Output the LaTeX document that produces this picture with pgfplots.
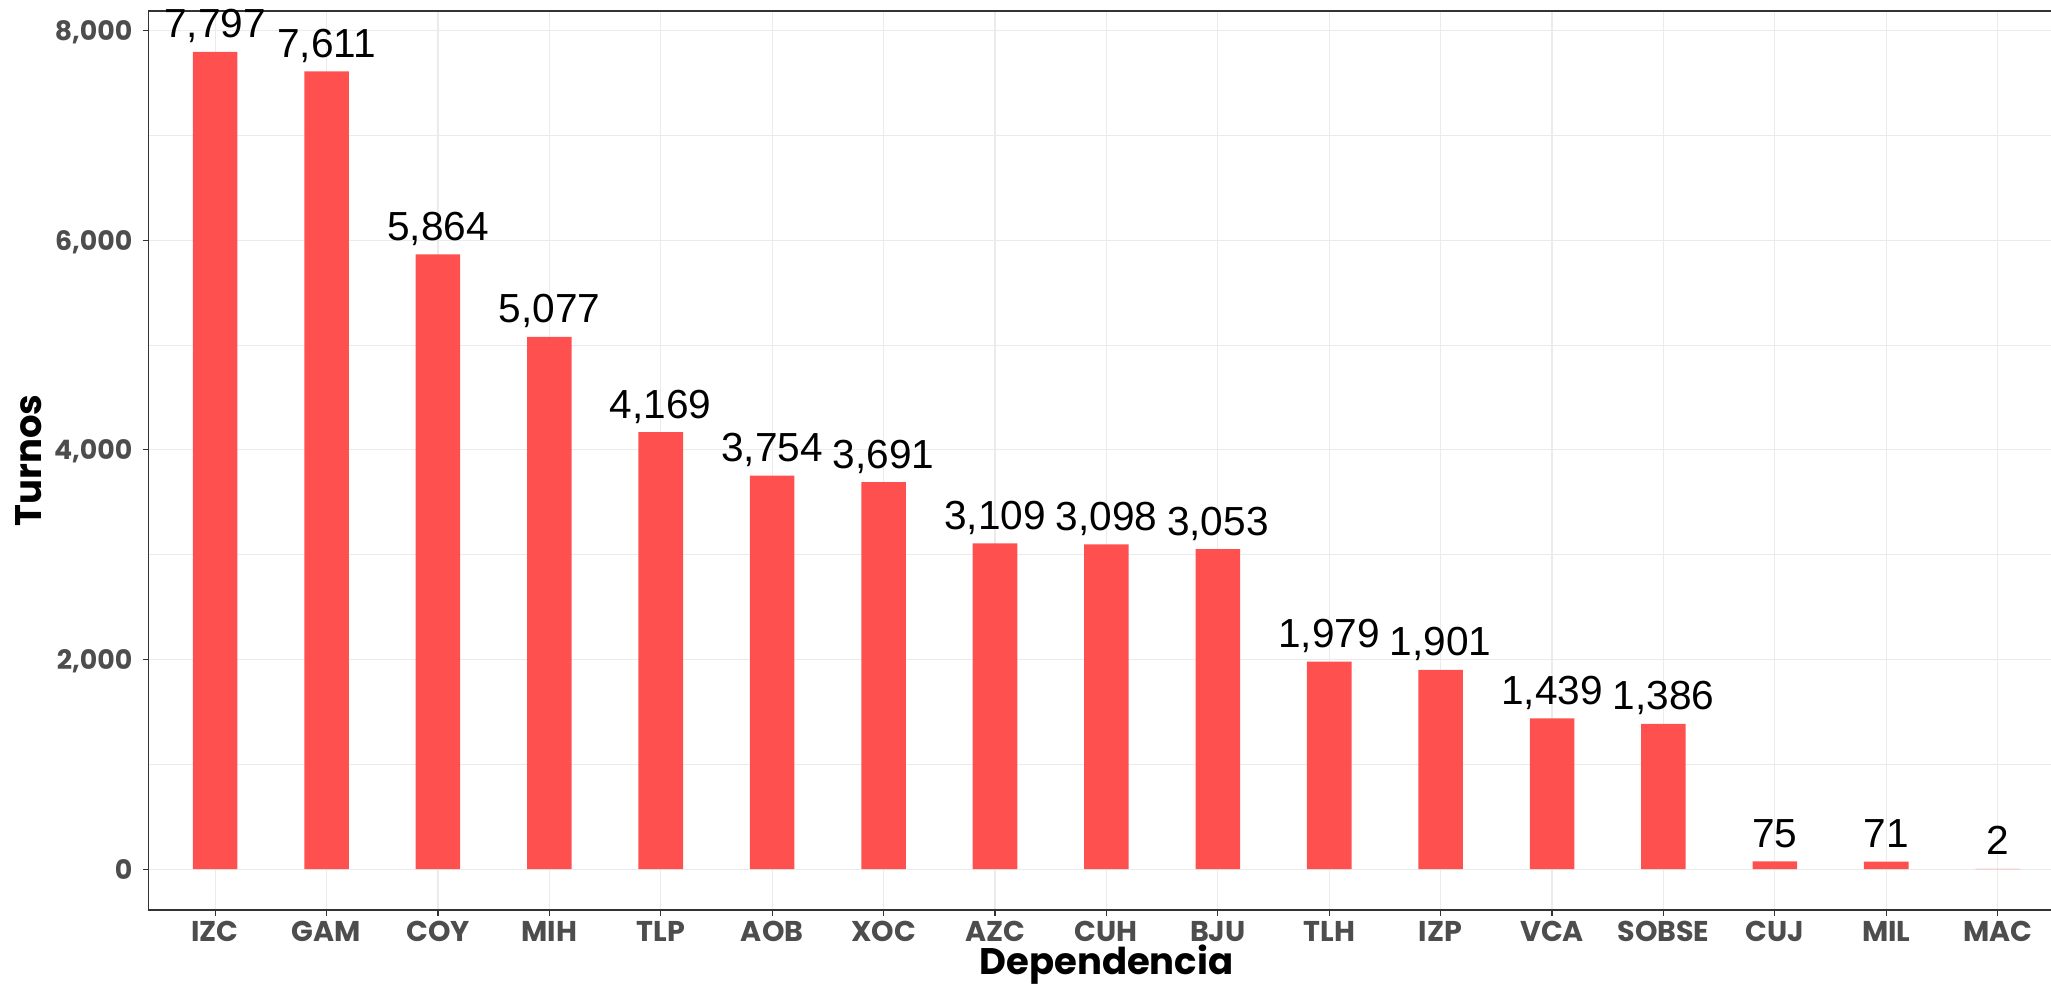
\documentclass[border=0pt]{standalone}
\usepackage{pgfplots}
\pgfplotsset{compat=1.18}
\usepackage{fontspec}
\setmainfont{Liberation Sans}
\newfontfamily\poppins{Poppins}
\definecolor{barred}{RGB}{255,80,80}
\definecolor{gridc}{RGB}{235,235,235}
\definecolor{tickc}{RGB}{77,77,77}
\definecolor{framec}{RGB}{51,51,51}
\begin{document}
\begin{tikzpicture}
\begin{axis}[
  scale only axis, width=958.1pt, height=449.5pt,
  xmin=-0.6, xmax=16.6, ymin=-389.85, ymax=8186.85,
  axis line style={framec, line width=0.55pt},
  xtick={0,...,16},
  xticklabels={IZC,GAM,COY,MIH,TLP,AOB,XOC,AZC,CUH,BJU,TLH,IZP,VCA,SOBSE,CUJ,MIL,MAC},
  ytick={0,2000,4000,6000,8000},
  minor ytick={1000,3000,5000,7000},
  grid=both,
  major grid style={gridc, line width=0.55pt},
  minor grid style={gridc, line width=0.3pt},
  tick align=outside, tick pos=left,
  major tick length=2.8pt, minor tick length=0pt,
  tick style={framec, line width=0.55pt},
  ticklabel style={font=\poppins\bfseries\fontsize{14.3}{16}\selectfont, text=tickc, inner sep=0pt},
  yticklabel style={font=\poppins\bfseries\fontsize{13.4}{16}\selectfont, anchor=east, text depth=0pt, xshift=-5pt},
  xticklabel style={anchor=north, text depth=0pt, yshift=-2.65pt},
  scaled y ticks=false,
  /pgf/number format/assume math mode=true,
  /pgf/number format/fixed,
  /pgf/number format/precision=0,
  /pgf/number format/1000 sep={,},
  xlabel={Dependencia}, ylabel={Turnos},
  label style={font=\poppins\bfseries\fontsize{18.5}{22}\selectfont, text=black, inner sep=0pt},
  xlabel style={at={(axis description cs:0.5,-0.0723)}, anchor=base},
  ylabel style={at={(axis description cs:-0.05563,0.5)}, anchor=base},
  ybar, bar width=0.4, bar shift=0pt,
  nodes near coords,
  every node near coord/.append style={font=\fontsize{20.3}{23}\selectfont, text=black, anchor=base, yshift=7pt, inner sep=0pt},
]
\addplot[fill=barred, draw=none] coordinates {
(0,7797) (1,7611) (2,5864) (3,5077) (4,4169) (5,3754) (6,3691) (7,3109)
(8,3098) (9,3053) (10,1979) (11,1901) (12,1439) (13,1386) (14,75) (15,71) (16,2)
};
\coordinate (SW) at (rel axis cs:0,0);
\coordinate (NW) at (rel axis cs:0,1);
\end{axis}
\pgfresetboundingbox
\useasboundingbox ([xshift=-74.15pt,yshift=-38pt]SW) rectangle ([xshift=951.35pt,yshift=5.5pt]NW);
\end{tikzpicture}
\end{document}
